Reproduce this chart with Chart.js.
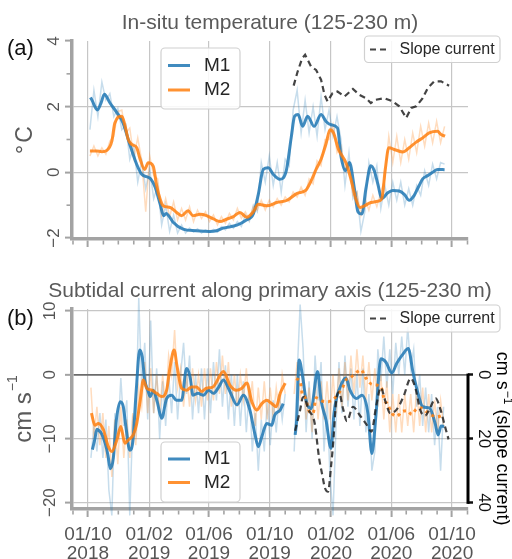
<!DOCTYPE html>
<html><head><meta charset="utf-8">
<script src="https://cdn.jsdelivr.net/npm/chart.js@4/dist/chart.umd.min.js"></script>
<style>
html,body{margin:0;padding:0;background:#fff;width:512px;height:559px;overflow:hidden}
#ca{position:absolute;left:0;top:0}
#cb{position:absolute;left:0;top:260px}
</style></head><body>
<canvas id="ca" width="512" height="260"></canvas>
<canvas id="cb" width="512" height="299"></canvas>
<script>
// ---------- DATA (days since 1 Oct 2018) ----------
const startDate = '2018-10-01';
const majorTickDates = ['2018-10-01','2019-02-01','2019-06-01','2019-10-01','2020-02-01','2020-06-01','2020-10-01'];
const majorTickLabels = [['01/10','2018'],['01/02','2019'],['01/06','2019'],['01/10','2019'],['01/02','2020'],['01/06','2020'],['01/10','2020']];
const tempTicks = [-2, 0, 2, 4];
const tempMinorTicks = [-1, 1, 3];
const curTicks = [-20, -10, 0, 10];
const slopeTicks = [0, 20, 40];

// Panel (a): in-situ temperature, smoothed
const m1TempDay = [5,8,19,26,33,44,58,70,84,98,108,121,126,135,145,152,157,162,171,191,217,245,258,271,299,318,332,342,352,362,372,385,398,408,415,422,431,441,454,468,478,488,501,508,517,525,535,542,550,558,568,575,582,590,602,612,625,635,645,655,665,672,682,692,702,716];
const m1TempVal = [2.28,2.2,1.9,2.1,2.38,2.12,1.82,1.52,0.85,0.24,-0.06,-0.15,-0.2,-0.45,-0.97,-1.32,-1.25,-1.32,-1.52,-1.73,-1.78,-1.8,-1.78,-1.7,-1.61,-1.45,-1.27,-0.67,0.09,0.14,-0.06,-0.21,0.04,1.05,1.71,1.76,1.40,1.71,1.40,1.76,1.55,1.45,1.35,0.49,0.05,0.3,-0.5,-1.2,-1.27,-0.5,0.2,0.04,-0.36,-0.8,-0.62,-0.55,-0.57,-0.67,-0.85,-0.7,-0.4,-0.2,-0.1,0.0,0.09,0.08];
const m2TempDay = [4,17,28,38,48,54,68,74,81,88,98,104,114,121,131,138,145,151,165,178,188,201,211,225,238,252,265,279,292,305,319,332,342,359,379,400,420,437,448,458,468,478,486,493,503,518,528,538,546,555,568,585,590,597,604,618,632,645,659,672,685,702,709,717];
const m2TempVal = [0.65,0.65,0.63,0.67,0.95,1.5,1.71,1.45,1.0,0.85,0.75,0.44,0.09,0.29,0.19,-0.41,-0.82,-1.02,-1.07,-1.22,-1.32,-1.17,-1.32,-1.28,-1.32,-1.42,-1.5,-1.42,-1.35,-1.22,-1.37,-1.2,-0.97,-1.02,-0.92,-0.85,-0.64,-0.55,-0.26,0.09,0.4,0.87,1.3,1.2,0.7,0.29,-0.21,-0.82,-1.07,-1.02,-0.92,-0.87,-0.8,0.1,0.75,0.68,0.62,0.75,0.92,1.05,1.2,1.25,1.15,1.1];
const slopeTempDay = [413,421,430,436,448,458,468,475,481,491,501,515,532,545,558,568,578,595,612,625,639,649,659,672,682,695,709,725];
const slopeTempVal = [2.64,3.07,3.47,3.58,3.22,3.12,2.82,2.36,2.16,2.41,2.46,2.31,2.54,2.36,2.26,2.11,2.21,2.26,2.16,2.01,1.66,1.96,2.01,2.26,2.56,2.77,2.77,2.64];
// Panel (a): unfiltered samples (every 8 days from day 4)
const rawTempStart = 4, rawTempStep = 8;
const m1TempRaw = [1.3,2.5,1.7,2.75,2.2,2.4,1.7,1.95,1.3,1.45, 0.4,0.8,-0.3,0.35,-0.5,0.1,-0.8,-0.4,-1.6,-1.0, -1.8,-1.3,-1.85,-1.6,-1.85,-1.7,-1.82,-1.72,-1.85,-1.75, -1.83,-1.74,-1.82,-1.65,-1.75,-1.55,-1.7,-1.5,-1.65,-1.3, -1.5,-1.0,-1.2,0.3,-0.3,0.5,-0.4,0.3,-0.6,0.4, 0.2,1.9,2.5,1.2,2.2,1.2,2.0,1.1,2.3,1.3, 1.9,1.1,1.7,1.0,-0.4,0.6,-0.8,-0.6,-1.8,-1.2, 0.3,-0.3,0.2,-1.1,-0.4,-1.0,-0.3,-0.85,-0.3,-1.0, -0.5,-1.0,-0.4,-0.7,0.05,-0.4,0.25,-0.2,0.3,0.25];
const m2TempRaw = [0.5,0.8,0.5,0.75,0.55,0.95,1.1,1.85,1.9,1.2, 1.35,0.45,1.05,0.35,-1.2,0.5,-0.1,-0.2,-1.3,-0.8, -1.35,-0.9,-1.45,-1.1,-1.45,-1.05,-1.5,-1.15,-1.4,-1.2, -1.5,-1.3,-1.6,-1.35,-1.55,-1.25,-1.45,-1.1,-1.4,-1.2, -1.45,-1.05,-1.15,-0.85,-1.15,-0.85,-1.05,-0.8,-1.0,-0.75, -0.9,-0.6,-0.75,-0.45,-0.7,-0.2,-0.35,0.35,0.2,1.0, 1.0,1.45,0.6,0.8,0.1,0.3,-0.7,-0.6,-1.3,-0.8, -1.15,-0.7,-1.05,-0.6,-0.2,1.1,0.3,1.1,0.3,1.0, 0.4,1.2,0.6,1.4,0.8,1.5,0.9,1.55,0.9,1.4];

// Panel (b): subtidal current along primary axis, smoothed
const m1CurDay = [9,14,18,23,28,35,40,45,51,57,65,71,77,84,90,97,104,109,114,121,125,131,139,148,158,168,178,188,198,205,211,221,232,242,252,262,272,285,299,312,325,335,342,349,359,369,375,386,392,404,416,419,424,431,438,448,461,468,478,488,494,498,504,518,526,539,550,562,570,578,588,598,610,620,632,643,653,663,672,686,697,703,709,715];
const m1CurVal = [-11.7,-10.0,-8.5,-8.8,-9.3,-10.8,-12.5,-14.7,-13.0,-7.1,-4.2,-5.0,-8.6,-11.8,-10.5,-2.4,3.9,2.8,-0.8,-2.6,-3.4,-2.4,-4.2,-6.8,-3.7,-3.2,-4.0,-4.0,1.0,-0.3,-3.2,-2.9,-3.2,-2.4,-2.9,-2.0,-0.8,-2.6,-4.7,-3.2,-5.5,-9.2,-11.25,-9.7,-7.6,-7.9,-6.3,-5.5,-4.5,null,-9.4,-7.1,2.3,-0.3,-4.0,-5.3,0.5,-4.0,-7.1,-11.5,-6.0,-4.0,-2.4,-0.5,-2.4,-3.7,-3.2,-6.0,-12.3,-6.5,2.5,2.0,0.3,1.8,3.2,4.1,0.2,-3.0,-5.0,-5.2,-7.6,-9.4,-8.0,-8.1];
const m2CurDay = [7,14,21,31,41,48,58,66,74,81,91,98,106,111,118,128,138,148,158,165,173,179,188,198,208,218,228,238,251,272,285,298,309,319,329,339,349,359,369,378,386,396,407,418,426,431,435,445,452,458,470,482,492,502,512,518,526,538,548,558,570,580,590,595,601,610,620,630,641,650,660,670,680,690,700,710];
const m2CurVal = [-6.0,-7.9,-7.6,-8.6,-11.25,-12.0,-10.2,-8.1,-10.7,-10.2,-9.4,-7.6,-3.4,-0.8,-2.1,-2.4,-2.9,-3.4,-2.4,1.25,3.9,1.25,-2.1,-2.4,-1.9,-1.9,-2.6,-2.1,-1.9,0.5,-1.6,-2.4,-2.1,-1.3,-4.2,-5.5,-4.5,-4.0,-4.5,-5.0,-2.9,-1.3,null,-0.6,-1.1,-3.2,-3.4,-5.8,-6.0,-3.6,-4.1,-4.2,-3.9,-3.0,-1.9,-0.8,-0.5,0.3,0.8,-0.5,-1.5,-1.6,-2.2,-4.0,-4.5,-6.0,-6.5,-5.8,-5.6,-6.2,-5.3,-5.2,-5.8,-6.3,-6.6,-6.4];
const m2DottedAfterDay = 400;
// slope current (right axis, cm/s)
const slopeCurDay = [416,426,431,434,442,455,464,470,476,482,488,493,498,504,512,520,532,545,559,569,579,588,597,607,620,634,648,658,667,677,685,698,708,717,724];
const slopeCurVal = [17.5,11,7.2,6.9,10.7,15,26,31,35.5,36.6,28.7,20,8.5,5.5,10.5,14.5,10,12.5,15.5,17.8,9.5,4.0,8.2,12,10.8,6.6,1.1,4.5,11,12.8,11,7.4,11,16.3,20.2];
// Panel (b): unfiltered samples (every 6 days from day 6)
const rawCurStart = 6, rawCurStep = 6;
const m1CurRaw = [-13,-8,-12,-6,-13,-7,-18,-22,-6,-10, -0.5,-8,-4,-22,-7,-9,12,-2,5,-7, 8.5,-6,1,-10,-1,-8,0,-6,2,-7, 0,5,-3,3,-7,0,-6,1,-7,1, -6,2,-4,4,-5,1.5,-7,0,-8,0, -8,-1,-9,-2,-12,-6,-15,-7,-12,-4, -11,-4,-9,-3,-7,-3,null,null,-12,0, 11,4,-9,-1,-10,3,-4,2,-12,-4, -16,-22,-8,2,-6,3,-5,1,-7,0, -8,1,-9,-3,-15,-12,4,-1,6,-2, 4,-3,5,0,6,0,7.5,1,4,-5, 0,-8,-2,-9,-3,-11,-5,-15,-5];
const m2CurRaw = [-2,-10,-5,-11,-6,-13,-8,-16,-7,-14, -5,-13,-7,-13,-6,-11,-2,-5,2,-6, 1,-6,0,-6,0,-5,3,0,7,-2, 1,-5,0,-5,1,-4,0,-5,1,-4, 1,-4,2,-3,3,-3,2,-5,0,-5, 0,-4,1,-5,-1,-8,-2,-7,-1,-7, -2,-7,-2,-6,0,-3,null,null,-3,2, -4,0,-7,-2,-9,-1,-7,-1,-7,-1, -7,0,-6,1,-5,2,-4,3,-3,4, -2,3,-4,2,-4,1,-5,0,-7,-1, -9,-3,-9,-3,-9,-3,-8,-3,-9,-2, -8,-2,-9,-3,-9,-4,-9,-4,-8];

// ---------- helpers ----------
const START = Date.parse(startDate + 'T00:00:00Z');
const dayOf = s => Math.round((Date.parse(s + 'T00:00:00Z') - START) / 86400000);
const majorDays = majorTickDates.map(dayOf);
const minorDays = [];
for (let k = 0; k <= 26; k++) minorDays.push(Math.round((Date.UTC(2018, 8 + k, 1) - START) / 86400000));
const toXY = (days, vals) => days.map((d, i) => ({x: d, y: vals[i]}));
const rawXY = (start, step, vals) => vals.map((v, i) => ({x: start + step * i, y: v}));
const fmt = v => (v < 0 ? '\u2212' + Math.abs(v) : String(v));

const FONT = '"Liberation Sans", Arial, Helvetica, sans-serif';
const GRID = '#c6c6c6', SPINE = '#a3a3a3', TICKTXT = '#555555';
const BLUE = 'rgba(31,119,180,0.85)', ORANGE = 'rgba(255,127,14,0.85)';
const BLUE_L = 'rgba(31,119,180,0.25)', ORANGE_L = 'rgba(255,127,14,0.27)';
const SLOPE = 'rgba(35,35,35,0.85)';

function runsRotated(ctx, cx, cy, angle, runs, color) {
  ctx.save(); ctx.translate(cx, cy); ctx.rotate(angle);
  ctx.textBaseline = 'middle'; ctx.textAlign = 'left'; ctx.fillStyle = color;
  let total = 0;
  runs.forEach(r => { ctx.font = r.size + 'px ' + FONT; r.w = ctx.measureText(r.t).width; total += r.w + (r.gap || 0); });
  let x = -total / 2;
  runs.forEach(r => { ctx.font = r.size + 'px ' + FONT; ctx.fillText(r.t, x, r.dy || 0); x += r.w + (r.gap || 0); });
  ctx.restore();
}
function drawLegend(ctx, L) {
  ctx.save();
  const r = 4;
  ctx.beginPath();
  ctx.moveTo(L.x + r, L.y); ctx.lineTo(L.x + L.w - r, L.y); ctx.arcTo(L.x + L.w, L.y, L.x + L.w, L.y + r, r);
  ctx.lineTo(L.x + L.w, L.y + L.h - r); ctx.arcTo(L.x + L.w, L.y + L.h, L.x + L.w - r, L.y + L.h, r);
  ctx.lineTo(L.x + r, L.y + L.h); ctx.arcTo(L.x, L.y + L.h, L.x, L.y + L.h - r, r);
  ctx.lineTo(L.x, L.y + r); ctx.arcTo(L.x, L.y, L.x + r, L.y, r); ctx.closePath();
  ctx.fillStyle = 'rgba(255,255,255,0.85)'; ctx.fill();
  ctx.strokeStyle = '#d0d0d0'; ctx.lineWidth = 1.2; ctx.stroke();
  L.rows.forEach(row => {
    ctx.strokeStyle = row.color; ctx.lineWidth = row.width; ctx.setLineDash(row.dash || []);
    ctx.beginPath(); ctx.moveTo(L.lineX0, row.y); ctx.lineTo(L.lineX1, row.y); ctx.stroke();
    ctx.setLineDash([]);
    ctx.fillStyle = '#262626'; ctx.font = L.size + 'px ' + FONT; ctx.textAlign = 'left'; ctx.textBaseline = 'middle';
    ctx.fillText(row.label, L.textX, row.y);
  });
  ctx.restore();
}

const decor = {
  id: 'decor',
  afterDraw(chart, _a, o) {
    const ctx = chart.ctx, ca = chart.chartArea, xs = chart.scales.x, ys = chart.scales.y;
    ctx.save();
    ctx.strokeStyle = SPINE; ctx.lineWidth = 1.6;
    minorDays.forEach(d => {
      if (majorDays.includes(d)) return;
      const px = xs.getPixelForValue(d);
      ctx.beginPath(); ctx.moveTo(px, ca.bottom + 1.5); ctx.lineTo(px, ca.bottom + 5.5); ctx.stroke();
    });
    (o.minorY || []).forEach(v => {
      const py = ys.getPixelForValue(v);
      ctx.beginPath(); ctx.moveTo(ca.left - 1.5, py); ctx.lineTo(ca.left - 5.5, py); ctx.stroke();
    });
    if (o.rightSpine) {
      const y2 = chart.scales.y2;
      ctx.strokeStyle = '#000'; ctx.lineWidth = 3;
      ctx.beginPath(); ctx.moveTo(ca.right, y2.getPixelForValue(0) - 1.25); ctx.lineTo(ca.right, y2.getPixelForValue(40) + 1.25); ctx.stroke();
      runsRotated(ctx, 501.5, y2.getPixelForValue(20), Math.PI / 2,
        [{t: 'cm s', size: 18, gap: 1}, {t: '\u22121', size: 12, dy: -6}, {t: ' (slope current)', size: 18}], '#000');
    }
    // title
    ctx.fillStyle = '#5a5a5a'; ctx.font = '21px ' + FONT; ctx.textAlign = 'center'; ctx.textBaseline = 'middle';
    ctx.fillText(o.title, (ca.left + ca.right) / 2, o.titleY);
    // panel letter
    ctx.fillStyle = '#111'; ctx.font = '22px ' + FONT; ctx.textAlign = 'left';
    ctx.fillText(o.panel, 7, o.panelY);
    // y title
    runsRotated(ctx, o.yTitleX, (ca.top + ca.bottom) / 2, -Math.PI / 2, o.yTitleRuns, '#5a5a5a');
    (o.legends || []).forEach(L => drawLegend(ctx, L));
    ctx.restore();
  }
};

function xScale(showLabels, height) {
  return {
    type: 'linear', min: -32, max: 763,
    afterBuildTicks: s => { s.ticks = majorDays.map(v => ({value: v})); },
    afterFit: s => { s.height = height; s.paddingLeft = 0; s.paddingRight = 0; },
    ticks: { display: showLabels, autoSkip: false, maxRotation: 0, minRotation: 0, padding: 8.5,
      color: TICKTXT, font: {family: FONT, size: 19, lineHeight: 1.0},
      callback: (v, i) => majorTickLabels[i] },
    grid: { color: GRID, lineWidth: 1.2, tickLength: 8, tickColor: SPINE, tickWidth: 2 },
    border: { display: true, color: SPINE, width: 3.5 }
  };
}
function leftY(min, max, ticks, pad, gridColor, gridWidth) {
  return {
    min, max,
    afterBuildTicks: s => { s.ticks = ticks.map(v => ({value: v})); },
    afterFit: s => { s.width = 72; s.paddingTop = 0; s.paddingBottom = 0; },
    ticks: { autoSkip: false, minRotation: 90, maxRotation: 90, crossAlign: 'center', padding: pad,
      color: TICKTXT, font: {family: FONT, size: 17}, callback: v => fmt(v) },
    grid: { color: gridColor, lineWidth: gridWidth, tickLength: 7, tickColor: SPINE, tickWidth: 2 },
    border: { display: true, color: SPINE, width: 3.5 }
  };
}
const common = { pointRadius: 0, pointHoverRadius: 0, fill: false, spanGaps: false };

// ---------- chart (a) ----------
new Chart(document.getElementById('ca'), {
  type: 'line',
  data: { datasets: [
    Object.assign({ data: toXY(slopeTempDay, slopeTempVal), borderColor: SLOPE, borderWidth: 2.2, borderDash: [6, 4], tension: 0 }, common),
    Object.assign({ data: toXY(m2TempDay, m2TempVal), borderColor: ORANGE, borderWidth: 3, cubicInterpolationMode: 'monotone' }, common),
    Object.assign({ data: toXY(m1TempDay, m1TempVal), borderColor: BLUE, borderWidth: 3, cubicInterpolationMode: 'monotone' }, common),
    Object.assign({ data: rawXY(rawTempStart, rawTempStep, m2TempRaw), borderColor: ORANGE_L, borderWidth: 1.5, tension: 0 }, common),
    Object.assign({ data: rawXY(rawTempStart, rawTempStep, m1TempRaw), borderColor: BLUE_L, borderWidth: 1.5, tension: 0 }, common)
  ]},
  options: {
    responsive: false, animation: false, devicePixelRatio: 1, events: [],
    layout: { padding: { top: 41, left: 0, right: 44, bottom: 0 } },
    scales: {
      x: xScale(false, 21),
      y: leftY(-2.03, 4.0, tempTicks, 1.3, c => (c.tick && c.tick.value === 4) ? 'rgba(0,0,0,0)' : GRID, 1.2)
    },
    plugins: {
      legend: { display: false }, tooltip: { enabled: false },
      decor: {
        title: 'In-situ temperature (125-230 m)', titleY: 23, panel: '(a)', panelY: 49,
        minorY: tempMinorTicks,
        yTitleX: 25.5, yTitleRuns: [{t: '\u00b0', size: 23, gap: 2}, {t: 'C', size: 23}],
        legends: [
          { x: 161, y: 48, w: 79, h: 61, size: 19, lineX0: 168, lineX1: 190, textX: 204,
            rows: [{label: 'M1', color: BLUE, width: 3, y: 65.5}, {label: 'M2', color: ORANGE, width: 3, y: 90}] },
          { x: 364.5, y: 36, w: 135.5, h: 26.5, size: 16, lineX0: 370, lineX1: 389, textX: 399.5,
            rows: [{label: 'Slope current', color: SLOPE, width: 2.2, dash: [6, 4], y: 49.5}] }
        ]
      }
    }
  },
  plugins: [decor]
});

// ---------- chart (b) ----------
const rawClip = { left: 0, right: 0, top: 14, bottom: 8 };
new Chart(document.getElementById('cb'), {
  type: 'line',
  data: { datasets: [
    Object.assign({ data: toXY(slopeCurDay, slopeCurVal), yAxisID: 'y2', borderColor: SLOPE, borderWidth: 2.2, borderDash: [6, 4], cubicInterpolationMode: 'monotone' }, common),
    Object.assign({ data: toXY(m2CurDay, m2CurVal), borderColor: ORANGE, borderWidth: 3, cubicInterpolationMode: 'monotone',
      segment: { borderDash: c => c.p0.parsed.x > m2DottedAfterDay ? [3, 4] : undefined } }, common),
    Object.assign({ data: toXY(m1CurDay, m1CurVal), borderColor: BLUE, borderWidth: 3, cubicInterpolationMode: 'monotone' }, common),
    Object.assign({ data: rawXY(rawCurStart, rawCurStep, m2CurRaw), borderColor: ORANGE_L, borderWidth: 1.5, tension: 0, clip: rawClip }, common),
    Object.assign({ data: rawXY(rawCurStart, rawCurStep, m1CurRaw), borderColor: BLUE_L, borderWidth: 1.5, tension: 0, clip: rawClip }, common)
  ]},
  options: {
    responsive: false, animation: false, devicePixelRatio: 1, events: [],
    layout: { padding: { top: 49, left: 0, right: 0, bottom: 0 } },
    scales: {
      x: xScale(true, 50),
      y: leftY(-21, 10.3, curTicks, 0, c => (c.tick && c.tick.value === 0) ? '#6b6b6b' : GRID, c => (c.tick && c.tick.value === 0) ? 1.7 : 1.2),
      y2: {
        position: 'right', reverse: true, min: -20.6, max: 42,
        afterBuildTicks: s => { s.ticks = slopeTicks.map(v => ({value: v})); },
        afterFit: s => { s.width = 44; s.paddingTop = 0; s.paddingBottom = 0; },
        ticks: { autoSkip: false, minRotation: -90, maxRotation: -90, crossAlign: 'center', padding: 1,
          color: '#111', font: {family: FONT, size: 17}, callback: v => fmt(v) },
        grid: { drawOnChartArea: false, tickLength: 5, tickColor: '#111', tickWidth: 2.5 },
        border: { display: false }
      }
    },
    plugins: {
      legend: { display: false }, tooltip: { enabled: false },
      decor: {
        title: 'Subtidal current along primary axis (125-230 m)', titleY: 31, panel: '(b)', panelY: 59,
        rightSpine: true,
        yTitleX: 24.8, yTitleRuns: [{t: 'cm s', size: 24, gap: 1}, {t: '\u22121', size: 14, dy: -12}],
        legends: [
          { x: 161, y: 182, w: 79, h: 60, size: 19, lineX0: 168, lineX1: 190, textX: 204,
            rows: [{label: 'M1', color: BLUE, width: 3, y: 199}, {label: 'M2', color: ORANGE, width: 3, y: 222.5}] },
          { x: 364.5, y: 45, w: 135.5, h: 27, size: 16, lineX0: 370, lineX1: 389, textX: 399.5,
            rows: [{label: 'Slope current', color: SLOPE, width: 2.2, dash: [6, 4], y: 58.5}] }
        ]
      }
    }
  },
  plugins: [decor]
});
</script>
</body></html>
